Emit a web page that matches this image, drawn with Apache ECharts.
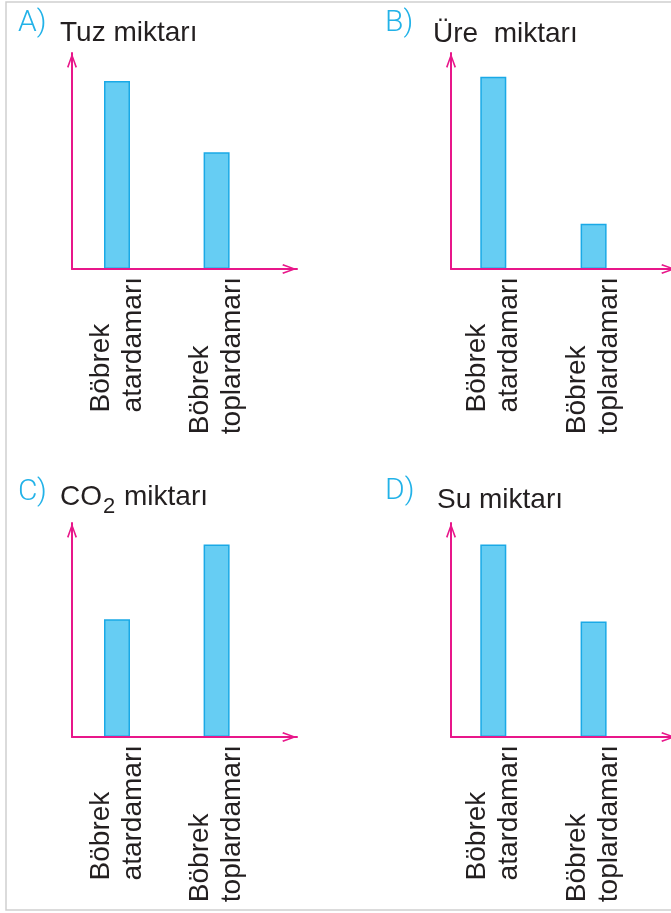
<!DOCTYPE html>
<html>
<head>
<meta charset="utf-8">
<script src="https://cdn.jsdelivr.net/npm/echarts@6/dist/echarts.min.js"></script>
<style>
html,body{margin:0;padding:0;background:#fff;}
#chart{width:671px;height:913px;}
</style>
</head>
<body>
<div id="chart"></div>
<script>
// ---- data ----
const categories = ['Böbrek\natardamarı', 'Böbrek\ntoplardamarı'];
const panelLetters = ['A)', 'B)', 'C)', 'D)'];
const panelTitles = ['Tuz miktarı', 'Üre  miktarı', '{t|CO}{s|2}{t| miktarı}', 'Su miktarı'];
const tuzValues = [8.7, 5.4];
const ureValues = [8.9, 2.1];
const co2Values = [5.5, 9.0];
const suValues = [9.0, 5.4];
const yMax = 10;

// ---- layout ----
const PINK = '#E8178A';
const CYAN = '#22B2E8';
const TEXT = '#231f20';
const panels = [
  { left: 72, top: 53, height: 216, firstCenter: 45, step: 99.6, values: tuzValues },
  { left: 451, top: 53, height: 216, firstCenter: 42.3, step: 100.3, values: ureValues },
  { left: 72, top: 523, height: 214, firstCenter: 45, step: 99.6, values: co2Values },
  { left: 451, top: 523, height: 214, firstCenter: 42.3, step: 100.3, values: suValues }
];
const axisWidth = 225;      // y-axis to arrow tip

const arrowPath = 'path://M5,0 L10,13.6 L8.5,14.3 L5,4.2 L1.5,14.3 L0,13.6 Z';
const axisLineStyle = {
  show: true,
  onZero: false,
  symbol: ['none', arrowPath],
  symbolSize: [10, 15],
  symbolOffset: [0, -7.5],
  lineStyle: { color: PINK, width: 2 }
};

const labelFormatter = function (v) {
  const name = categories[Math.round(v)] || '';
  return name.split('\n').map(l => '{a|' + l + '}').join('\n');
};

const grids = [], xAxes = [], yAxes = [], series = [];
panels.forEach((p, i) => {
  grids.push({ left: p.left, top: p.top, width: axisWidth, height: p.height,
    containLabel: false, outerBoundsMode: 'none' });
  xAxes.push({
    type: 'value', gridIndex: i,
    min: -p.firstCenter / p.step, max: (axisWidth - p.firstCenter) / p.step, z: 5,
    axisLine: axisLineStyle,
    axisTick: { show: false },
    splitLine: { show: false },
    axisLabel: {
      customValues: [0, 1],
      rotate: 90, margin: 8,
      formatter: labelFormatter,
      rich: { a: { fontFamily: 'Liberation Sans', fontSize: 28, lineHeight: 32, align: 'left', color: TEXT } }
    }
  });
  yAxes.push({
    type: 'value', gridIndex: i, min: 0, max: yMax, z: 5,
    axisLine: axisLineStyle,
    axisTick: { show: false },
    axisLabel: { show: false },
    splitLine: { show: false }
  });
  series.push({
    type: 'bar', xAxisIndex: i, yAxisIndex: i,
    barWidth: 26,
    data: p.values.map((v, k) => [k, v]),
    itemStyle: { color: '#66CDF3', borderColor: '#1AA9E6', borderWidth: 1.5 },
    silent: true
  });
});

const letterPos = [[18, 23], [385, 23], [18, 492], [385, 491]];
const titlePos = [[60, 33], [433, 34], [60, 497], [437, 500]];
const graphics = [
  { type: 'rect', shape: { x: 6, y: 2, width: 720, height: 908 },
    style: { fill: 'none', stroke: '#cfcfcf', lineWidth: 1.5 }, silent: true }
];
panelLetters.forEach((t, i) => {
  graphics.push({ type: 'text', x: letterPos[i][0], y: letterPos[i][1],
    style: { text: t, fill: CYAN, fontSize: 30, fontFamily: 'Roboto', fontWeight: 300, verticalAlign: 'middle', align: 'left' } });
  graphics.push({ type: 'text', x: titlePos[i][0], y: titlePos[i][1],
    style: { text: panelTitles[i], fill: TEXT, fontSize: 28, fontFamily: 'Liberation Sans', verticalAlign: 'middle', align: 'left',
      rich: {
        t: { fontSize: 28, fontFamily: 'Liberation Sans', fill: TEXT, lineHeight: 44 },
        s: { fontSize: 22, fontFamily: 'Liberation Sans', fill: TEXT, padding: [20, 1, 0, 1] }
      } } });
});

const chart = echarts.init(document.getElementById('chart'), null, { renderer: 'canvas' });
chart.setOption({
  backgroundColor: '#ffffff',
  animation: false,
  grid: grids,
  xAxis: xAxes,
  yAxis: yAxes,
  series: series,
  graphic: graphics
});
</script>
</body>
</html>
